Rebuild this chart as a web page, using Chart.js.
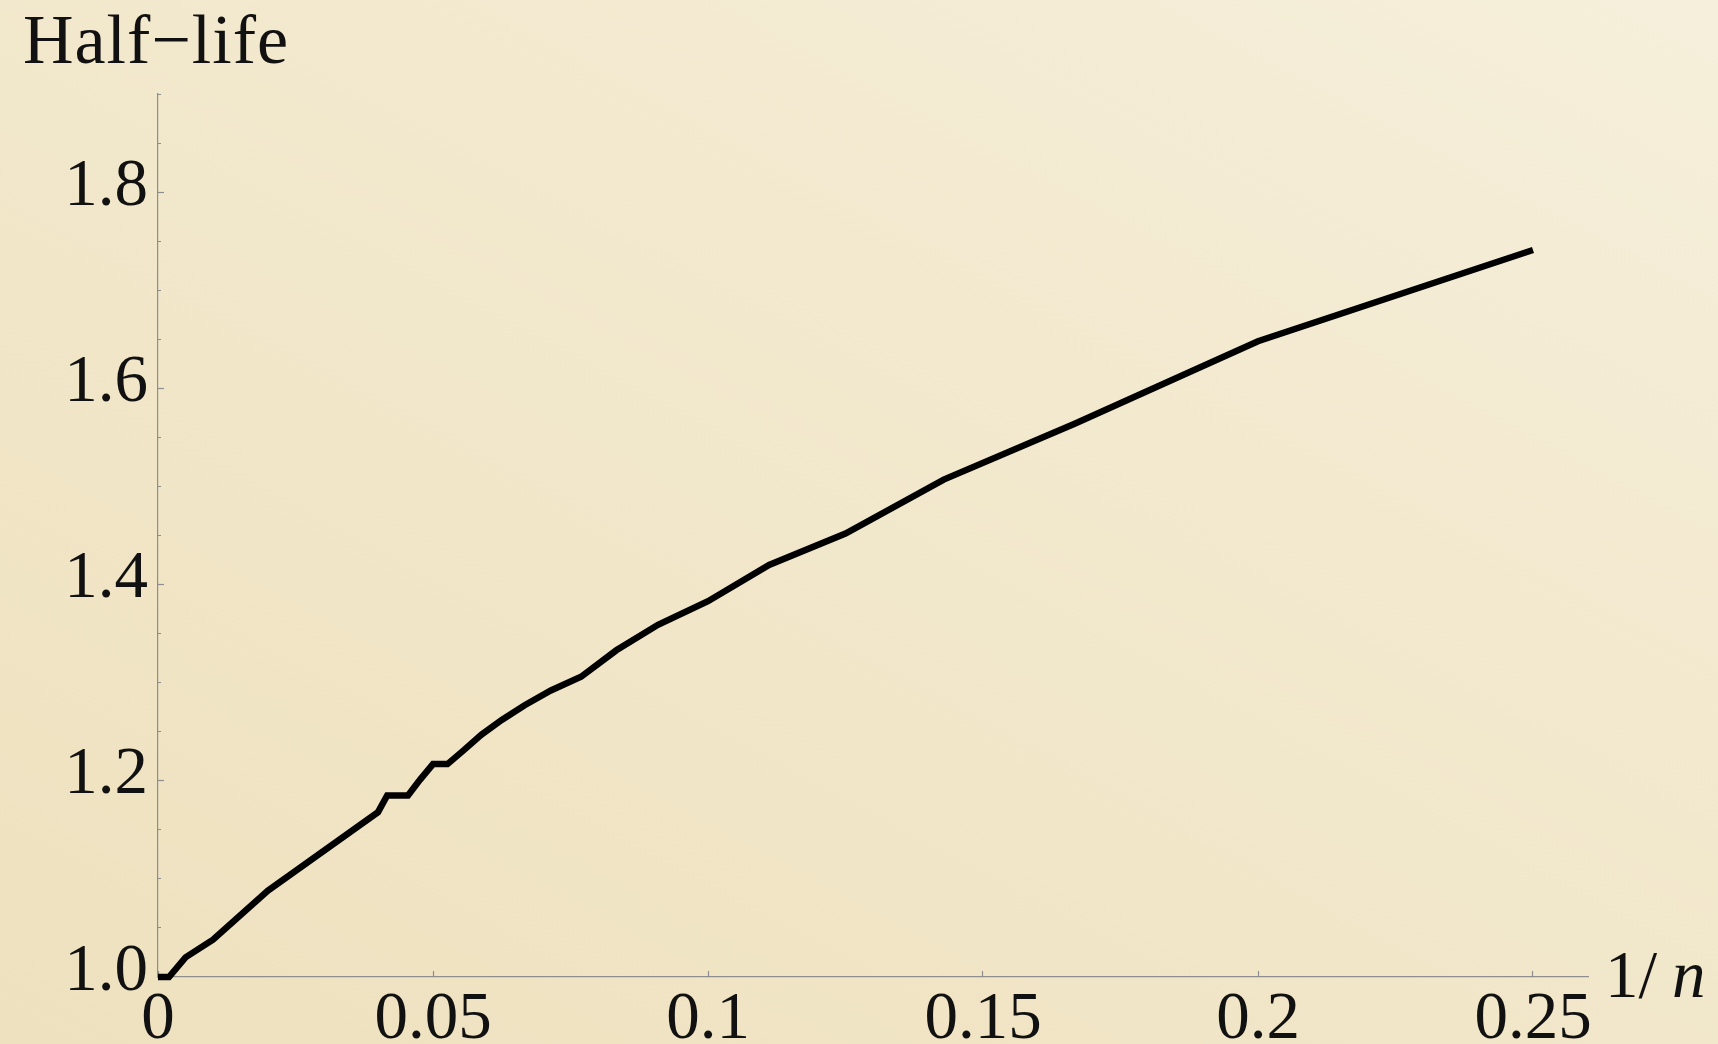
<!DOCTYPE html>
<html>
<head>
<meta charset="utf-8">
<title>Half-life vs 1/n</title>
<script src="https://cdn.jsdelivr.net/npm/chart.js@4.4.1/dist/chart.umd.min.js"></script>
<style>
  html, body { margin: 0; padding: 0; width: 1718px; height: 1044px; overflow: hidden; }
  body { background: linear-gradient(28deg, #eee1bf 0%, #f1e6c8 40%, #f3ead1 70%, #f6efdb 100%); }
  #c { display: block; }
</style>
</head>
<body>
<canvas id="c" width="1718" height="1044"></canvas>
<script>
// Half-life of the process against the inverse system size 1/n
const inverseN = [0, 0.002, 0.005, 0.01, 0.02, 0.04,
  1/24, 1/23, 1/22, 1/21, 1/20, 1/19, 1/18, 1/17, 1/16, 1/15,
  1/14, 1/13, 1/12, 1/11, 1/10, 1/9, 1/8, 1/7, 1/6, 1/5, 1/4];
const halfLife = [1.000, 1.000, 1.020, 1.038, 1.088, 1.168,
  1.185, 1.185, 1.185, 1.201, 1.217, 1.217, 1.231, 1.247, 1.262, 1.277,
  1.292, 1.306, 1.333, 1.359, 1.383, 1.420, 1.452, 1.507, 1.564, 1.648, 1.741];

// Axis ticks and their labels (empty label = minor tick)
const xTicks = [0, 0.05, 0.1, 0.15, 0.2, 0.25];
const xTickLabels = ['0', '0.05', '0.1', '0.15', '0.2', '0.25'];
const yTicks = [1.0, 1.05, 1.1, 1.15, 1.2, 1.25, 1.3, 1.35, 1.4, 1.45,
  1.5, 1.55, 1.6, 1.65, 1.7, 1.75, 1.8, 1.85, 1.9];
const yTickLabels = ['1.0', '', '', '', '1.2', '', '', '', '1.4', '',
  '', '', '1.6', '', '', '', '1.8', '', ''];

const FONT = "'Liberation Serif', 'Times New Roman', serif";
const AXIS_GREY = '#8e8e8e';
const INK = '#111111';

function labelFor(values, labels, v) {
  const k = values.findIndex(t => Math.abs(t - v) < 1e-9);
  return k >= 0 ? labels[k] : '';
}

// Axis captions: "Half−life" above the vertical axis, "1/n" after the horizontal axis
const axisCaptions = {
  id: 'axisCaptions',
  afterDraw(chart) {
    const c = chart.ctx;
    const area = chart.chartArea;
    c.save();
    c.fillStyle = INK;
    c.textBaseline = 'alphabetic';
    c.textAlign = 'left';

    c.font = `70px ${FONT}`;
    c.letterSpacing = '1px';
    c.fillText('Half\u2212life', area.left - 135, area.top - 31);

    c.letterSpacing = '0px';
    c.font = `67px ${FONT}`;
    const x0 = area.right + 17;
    const base = area.bottom + 20;
    c.fillText('1/', x0, base);
    c.font = `italic 67px ${FONT}`;
    c.fillText('n', x0 + 67, base);
    c.restore();
  }
};

new Chart(document.getElementById('c'), {
  type: 'scatter',
  data: {
    datasets: [{
      data: inverseN.map((x, i) => ({ x: x, y: halfLife[i] })),
      showLine: true,
      borderColor: '#000000',
      borderWidth: 6.5,
      borderJoinStyle: 'miter',
      borderCapStyle: 'butt',
      pointRadius: 0,
      pointHoverRadius: 0,
      tension: 0,
      clip: false
    }]
  },
  options: {
    responsive: false,
    animation: false,
    devicePixelRatio: 1,
    events: [],
    layout: { padding: { top: 94, right: 130, left: 0, bottom: 0 } },
    plugins: { legend: { display: false }, tooltip: { enabled: false } },
    scales: {
      x: {
        type: 'linear',
        position: 'bottom',
        min: 0,
        max: 0.26,
        afterBuildTicks: s => { s.ticks = xTicks.map(v => ({ value: v })); },
        afterFit: s => { s.height = 67; },
        grid: {
          drawOnChartArea: false,
          drawTicks: true,
          tickLength: -6,
          tickColor: AXIS_GREY,
          tickWidth: 1.2
        },
        border: { display: true, color: AXIS_GREY, width: 1.2 },
        ticks: {
          autoSkip: false,
          maxRotation: 0,
          padding: 9,
          color: INK,
          font: { family: FONT, size: 67 },
          callback: v => labelFor(xTicks, xTickLabels, v)
        }
      },
      y: {
        type: 'linear',
        position: 'left',
        min: 1.0,
        max: 1.9,
        afterBuildTicks: s => { s.ticks = yTicks.map(v => ({ value: v })); },
        afterFit: s => { s.width = 158; },
        grid: {
          drawOnChartArea: false,
          drawTicks: true,
          tickLength: -6,
          tickColor: AXIS_GREY,
          tickWidth: 1.2,
          // minor ticks: skip the inner part so they come out shorter
          tickBorderDash: ctx => labelFor(yTicks, yTickLabels, ctx.tick ? ctx.tick.value : NaN) ? [] : [0, 3, 50, 0]
        },
        border: { display: true, color: AXIS_GREY, width: 1.2 },
        ticks: {
          autoSkip: false,
          padding: 16,
          labelOffset: -5,
          color: INK,
          font: { family: FONT, size: 67 },
          callback: v => labelFor(yTicks, yTickLabels, v)
        }
      }
    }
  },
  plugins: [axisCaptions]
});
</script>
</body>
</html>
